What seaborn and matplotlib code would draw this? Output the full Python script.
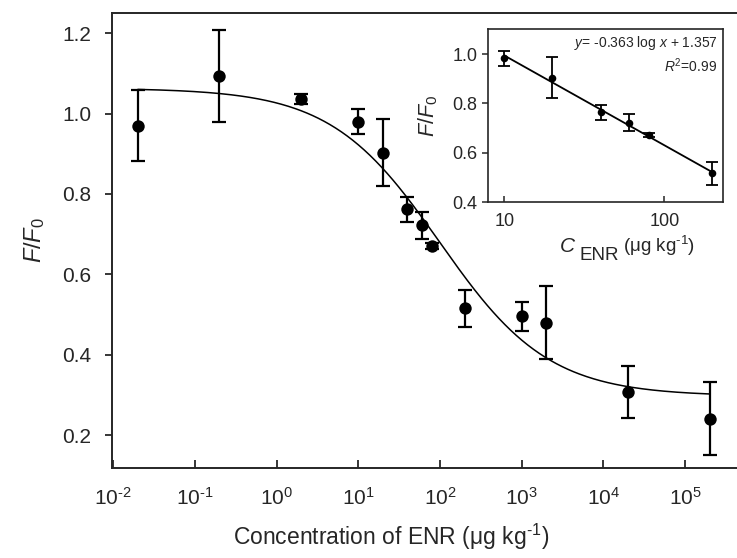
import numpy as np
import pandas as pd
import matplotlib
matplotlib.use("Agg")
import matplotlib.pyplot as plt
import seaborn as sns
from matplotlib.ticker import FixedLocator, FuncFormatter, NullLocator

# main data: ENR concentration vs F/F0
conc = [0.02, 0.2, 2, 10, 20, 40, 60, 80, 200, 1000, 2000, 2e4, 2e5]
ratio = [0.970, 1.093, 1.036, 0.980, 0.903, 0.762, 0.722, 0.670, 0.515, 0.496, 0.480, 0.307, 0.241]
err = [0.088, 0.115, 0.012, 0.032, 0.083, 0.031, 0.033, 0.008, 0.045, 0.036, 0.090, 0.064, 0.090]

# four parameter logistic fit (top, bottom, IC50, slope)
fit_top, fit_bottom, fit_ic50, fit_hill = 1.063, 0.297, 99.0, 0.65

# inset: linear range
inset_conc = [10, 20, 40, 60, 80, 200]
inset_ratio = [0.982, 0.904, 0.764, 0.722, 0.672, 0.517]
inset_err = [0.032, 0.083, 0.031, 0.034, 0.007, 0.045]
slope, intercept = -0.363, 1.357

main_xticks = [1e-2, 1e-1, 1, 10, 1e2, 1e3, 1e4, 1e5]
main_yticks = [0.2, 0.4, 0.6, 0.8, 1.0, 1.2]
inset_xticks = [10, 100]
inset_yticks = [0.4, 0.6, 0.8, 1.0]

sns.set_style("ticks")
plt.rcParams['font.family'] = ['Liberation Sans', 'DejaVu Sans']
plt.rcParams['mathtext.fontset'] = 'custom'
plt.rcParams['mathtext.rm'] = 'Liberation Sans'
plt.rcParams['mathtext.it'] = 'Liberation Sans:italic'
plt.rcParams['axes.unicode_minus'] = False

W, H = 737, 558
fig = plt.figure(figsize=(W / 100, H / 100), dpi=100)

def px_box(l, t, r, b):
    return [l / W, 1 - b / H, (r - l) / W, (b - t) / H]

def pow10(v, p):
    e = int(round(np.log10(v)))
    if e < 0:
        return r"$\mathregular{10^{\text{-}%d}}$" % (-e)
    return r"$\mathregular{10^{%d}}$" % e

ax = fig.add_axes(px_box(112.3, 13, 741, 467.7))
df = pd.DataFrame({"conc": conc, "ratio": ratio, "err": err})

xs = np.logspace(np.log10(conc[0]), np.log10(conc[-1]), 400)
fit_df = pd.DataFrame({"x": xs, "y": fit_bottom + (fit_top - fit_bottom) / (1 + (xs / fit_ic50) ** fit_hill)})
sns.lineplot(data=fit_df, x="x", y="y", ax=ax, color="black", lw=1.1, zorder=2)
ax.errorbar(df["conc"], df["ratio"], yerr=df["err"], fmt="none", ecolor="black",
            elinewidth=1.6, capsize=5, capthick=1.6, zorder=3)
sns.scatterplot(data=df, x="conc", y="ratio", ax=ax, color="black", s=80,
                edgecolor="black", linewidth=0, zorder=4)

ax.set_xscale("log")
ax.set_xlim(10 ** -2.011, 10 ** 5.684)
ax.set_ylim(0.119, 1.25)
ax.xaxis.set_major_locator(FixedLocator(main_xticks))
ax.xaxis.set_minor_locator(NullLocator())
ax.xaxis.set_major_formatter(FuncFormatter(pow10))
ax.set_yticks(main_yticks)
ax.yaxis.set_major_formatter(FuncFormatter(lambda v, p: "%.1f" % v))
ax.tick_params(axis="x", direction="in", length=6, width=1.3, labelsize=15, pad=14)
ax.tick_params(axis="y", direction="out", length=5, width=1.3, labelsize=15, pad=10)
for s in ax.spines.values():
    s.set_linewidth(1.4)
ax.set_xlabel(r"Concentration of ENR (μg kg$^{\text{-}1}$)", fontsize=16.5)
ax.xaxis.set_label_coords(0.443, -0.119)
ax.set_ylabel(r"$\mathit{F/F}_{\mathit{0}}$", fontsize=17, labelpad=11)

# inset
axi = fig.add_axes(px_box(488.3, 29.3, 723.3, 202.3))
idf = pd.DataFrame({"conc": inset_conc, "ratio": inset_ratio, "err": inset_err})
lx = np.array([inset_conc[0], inset_conc[-1]])
line_df = pd.DataFrame({"x": lx, "y": slope * np.log10(lx) + intercept})
sns.lineplot(data=line_df, x="x", y="y", ax=axi, color="black", lw=1.3, zorder=2)
axi.errorbar(idf["conc"], idf["ratio"], yerr=idf["err"], fmt="none", ecolor="black",
             elinewidth=1.3, capsize=4, capthick=1.3, zorder=3)
sns.scatterplot(data=idf, x="conc", y="ratio", ax=axi, color="black", s=30,
                linewidth=0, zorder=4)
axi.set_xscale("log")
axi.set_xlim(7.94, 234)
axi.set_ylim(0.4, 1.1)
axi.xaxis.set_major_locator(FixedLocator(inset_xticks))
axi.xaxis.set_minor_locator(NullLocator())
axi.xaxis.set_major_formatter(FuncFormatter(lambda v, p: "%d" % v))
axi.set_yticks(inset_yticks)
axi.yaxis.set_major_formatter(FuncFormatter(lambda v, p: "%.1f" % v))
axi.tick_params(axis="x", direction="in", length=4, width=1.1, labelsize=13, pad=8)
axi.tick_params(axis="y", direction="out", length=4, width=1.1, labelsize=13, pad=4)
for s in axi.spines.values():
    s.set_linewidth(1.2)
axi.set_xlabel("")
axi.set_ylabel(r"$\mathit{F/F}_{\mathit{0}}$", fontsize=15.5, labelpad=9)

# inset x label: italic C, lowered ENR, unit
axi.text(0.303, -0.286, "C", style="italic", fontsize=15, transform=axi.transAxes,
         ha="left", va="baseline")
axi.text(0.389, -0.334, "ENR", fontsize=13.5, transform=axi.transAxes,
         ha="left", va="baseline")
axi.text(0.573, -0.286, r"(μg kg$^{\text{-}1}$)", fontsize=13.5, transform=axi.transAxes,
         ha="left", va="baseline")

axi.text(0.975, 0.92, r"$y$= -0.363 log $x$ + 1.357", transform=axi.transAxes,
         ha="right", va="center", fontsize=10)
axi.text(0.975, 0.79, r"$R^{2}$=0.99", transform=axi.transAxes,
         ha="right", va="center", fontsize=10)

fig.savefig("out.png", dpi=100)
